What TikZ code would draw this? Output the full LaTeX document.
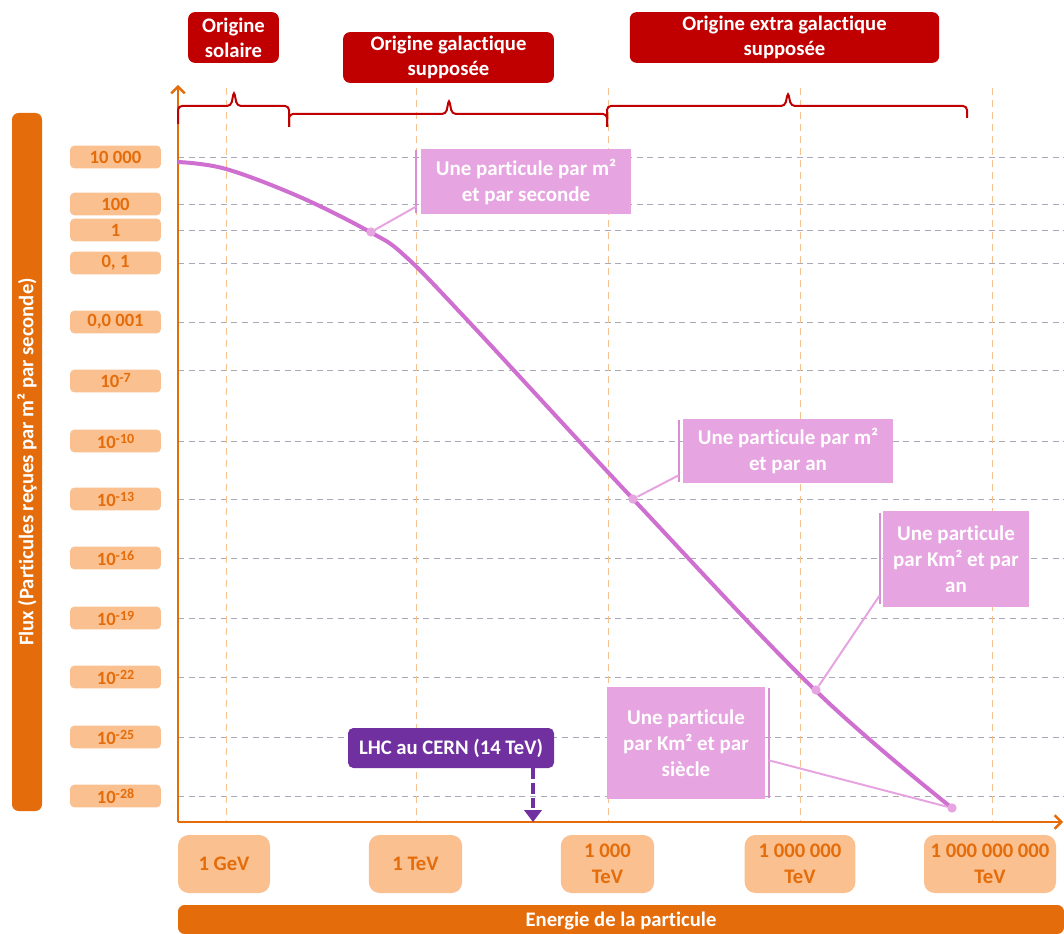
\documentclass[tikz,border=0pt]{standalone}
\usepackage{fontspec}
\setmainfont{Carlito}[Ligatures=NoCommon]
\usetikzlibrary{positioning, arrows.meta, calc}

\definecolor{axisorange}{HTML}{E46C0A}
\definecolor{peach}{HTML}{FAC090}
\definecolor{darkred}{HTML}{C00000}
\definecolor{lhcpurple}{HTML}{7030A0}
\definecolor{curvepink}{HTML}{CF6FCF}
\definecolor{calloutpink}{HTML}{E6A4E0}
\definecolor{accentpink}{HTML}{D98DD3}
\definecolor{gridgray}{HTML}{A8A8B8}
\definecolor{gridorange}{HTML}{F6C28E}

\newcommand{\expo}[1]{\raisebox{0.55ex}{\fontsize{10.5}{10.5}\selectfont#1}}

\begin{document}
\begin{tikzpicture}[
    x=0.75pt, y=-0.75pt,
    ylab/.style={rectangle, fill=peach, rounded corners=3pt, minimum width=68pt, minimum height=17pt, inner sep=0pt, text=axisorange, font=\fontsize{14}{15}\selectfont\bfseries},
    xlab/.style={rectangle, fill=peach, rounded corners=8pt, minimum height=43.5pt, inner sep=0pt, align=center, text=axisorange, font=\fontsize{15.5}{19.5}\selectfont\bfseries},
    origin/.style={rectangle, fill=darkred, rounded corners=5pt, minimum height=38pt, inner sep=0pt, align=center, text=white, font=\fontsize{15.5}{19}\selectfont\bfseries},
    callout/.style={rectangle, fill=calloutpink, inner sep=0pt, align=center, text=white, font=\fontsize{15.75}{19.5}\selectfont\bfseries},
    bar/.style={rectangle, fill=axisorange, rounded corners=5pt, inner sep=0pt, text=white, font=\fontsize{15.5}{17}\selectfont\bfseries},
    accent/.style={accentpink, line width=1.5pt},
    leader/.style={calloutpink, line width=1.5pt},
    dot/.style={circle, fill=calloutpink, inner sep=0pt, minimum size=7pt},
    gridh/.style={gridgray, line width=0.7pt, dash pattern=on 4.5pt off 3.5pt},
    gridv/.style={gridorange, line width=0.6pt, dash pattern=on 5pt off 4pt},
    axis/.style={axisorange, line width=1.8pt, -{Straight Barb[length=5pt, width=10pt]}},
    bracket/.style={darkred, line width=1.5pt, rounded corners=3pt},
    curve/.style={curvepink, line width=3pt, line join=round}
]

    \useasboundingbox (0,0) rectangle (1064,934);

    % === Grid ===
    \foreach \y in {157,204,230,263,322,370,441,499,558,618,677,737,796}
        \draw[gridh] (178,\y) -- (1064,\y);
    \foreach \x in {226,416,608,800,992}
        \draw[gridv] (\x,88) -- (\x,822);

    % === Axes ===
    \coordinate (origin) at (178,822);
    \coordinate (ytop) at (178,85);
    \coordinate (xend) at (1063,822);
    \draw[axis] (origin) -- (ytop);
    \draw[axis] (origin) -- (xend);

    % Flux labels
    \node[ylab] (f1) at (115.5,157) {10 000};
    \node[ylab] (f2) at (115.5,204) {100};
    \node[ylab] (f3) at (115.5,230) {1};
    \node[ylab] (f4) at (115.5,263) {0, 1};
    \node[ylab] (f5) at (115.5,322) {0,0 001};
    \node[ylab] (f6) at (115.5,381) {10\expo{-7}};
    \foreach \e/\y in {10/441,13/499,16/558,19/618,22/677,25/737,28/796}
        \node[ylab] (f\e) at (115.5,\y) {10\expo{-\e}};

    % Energy labels
    \node[xlab, minimum width=69pt] (e1) at (224,864) {1 GeV};
    \node[xlab, minimum width=70pt] (e2) at (415.5,864) {1 TeV};
    \node[xlab, minimum width=70pt] (e3) at (607.5,864) {1 000\\TeV};
    \node[xlab, minimum width=83pt] (e4) at (800,864) {1 000 000\\TeV};
    \node[xlab, minimum width=99pt] (e5) at (990,864) {1 000 000 000\\TeV};

    % Axis titles
    \node[bar, rotate=90, minimum width=523.5pt, minimum height=22.5pt] (fluxbar) at (27,462)
        {Flux (Particules reçues par m² par seconde)};
    \node[bar, minimum width=664.5pt, minimum height=21.75pt, text depth=0pt] (energybar) at (621,919.5)
        {Energie de la particule};

    % === Origins ===
    \node[origin, minimum width=68pt] (solaire) at (233.5,37.5) {Origine\\solaire};
    \node[origin, minimum width=158pt] (galactique) at (448.5,57.5) {Origine galactique\\supposée};
    \node[origin, minimum width=232pt] (extra) at (784.5,37.5) {Origine extra galactique\\supposée};

    % Brackets
    \draw[bracket] (178,124) -- (178,106) -- (231,106) -- (234,91) -- (237,106) -- (289,106) -- (289,127);
    \draw[bracket] (289,127) -- (289,114) -- (446,114) -- (449,99) -- (452,114) -- (607,114) -- (607,127);
    \draw[bracket] (607,127) -- (607,106) -- (785,106) -- (788,92) -- (791,106) -- (967,106) -- (967,118);

    % === Spectrum ===
    \draw[curve] plot[smooth, tension=0.6] coordinates
        {(178,162) (226,169) (300,197) (370,232) (405,256) (470,323) (633,499) (815,690) (952,808)};

    \node[dot] (p1) at (371,232) {};
    \node[dot] (p2) at (633,499) {};
    \node[dot] (p3) at (816,690) {};
    \node[dot] (p4) at (952,808) {};

    % === Callouts ===
    \node[callout, minimum width=158pt, minimum height=49pt] (c1) at (526,181.5)
        {Une particule par m²\\et par seconde};
    \node[callout, minimum width=157.5pt, minimum height=48pt] (c2) at (788,451)
        {Une particule par m²\\et par an};
    \node[callout, minimum width=109.5pt, minimum height=72pt] (c3) at (956,559)
        {Une particule\\par Km² et par\\an};
    \node[callout, minimum width=119pt, minimum height=84pt] (c4) at (686,743)
        {Une particule\\par Km² et par\\siècle};

    % Accent bars and leaders
    \draw[accent] ($(c1.north west)+(-4,1)$) -- ($(c1.south west)+(-4,-1)$);
    \draw[leader] ($(c1.south west)+(-4,-8)$) -- (p1);
    \draw[accent] ($(c2.north west)+(-4,1)$) -- ($(c2.south west)+(-4,-1)$);
    \draw[leader] ($(c2.south west)+(-4,-8)$) -- (p2);
    \draw[accent] ($(c3.north west)+(-3,2)$) -- ($(c3.south west)+(-3,-3)$);
    \draw[leader] ($(c3.south west)+(-3,-12)$) -- (p3);
    \draw[accent] ($(c4.north east)+(3,1)$) -- ($(c4.south east)+(3,-1)$);
    \draw[leader] ($(c4.south east)+(3,-39)$) -- (p4);

    % === LHC ===
    \node[origin, fill=lhcpurple, rounded corners=4pt, minimum width=154.5pt, minimum height=30pt] (lhc) at (451,748)
        {LHC au CERN (14 TeV)};
    \coordinate (lhctip) at (533,822);
    \draw[lhcpurple, line width=3pt, dash pattern=on 8pt off 3pt, -{Triangle[length=9pt, width=13pt]}]
        (lhc.south -| lhctip) -- (lhctip);

\end{tikzpicture}
\end{document}
